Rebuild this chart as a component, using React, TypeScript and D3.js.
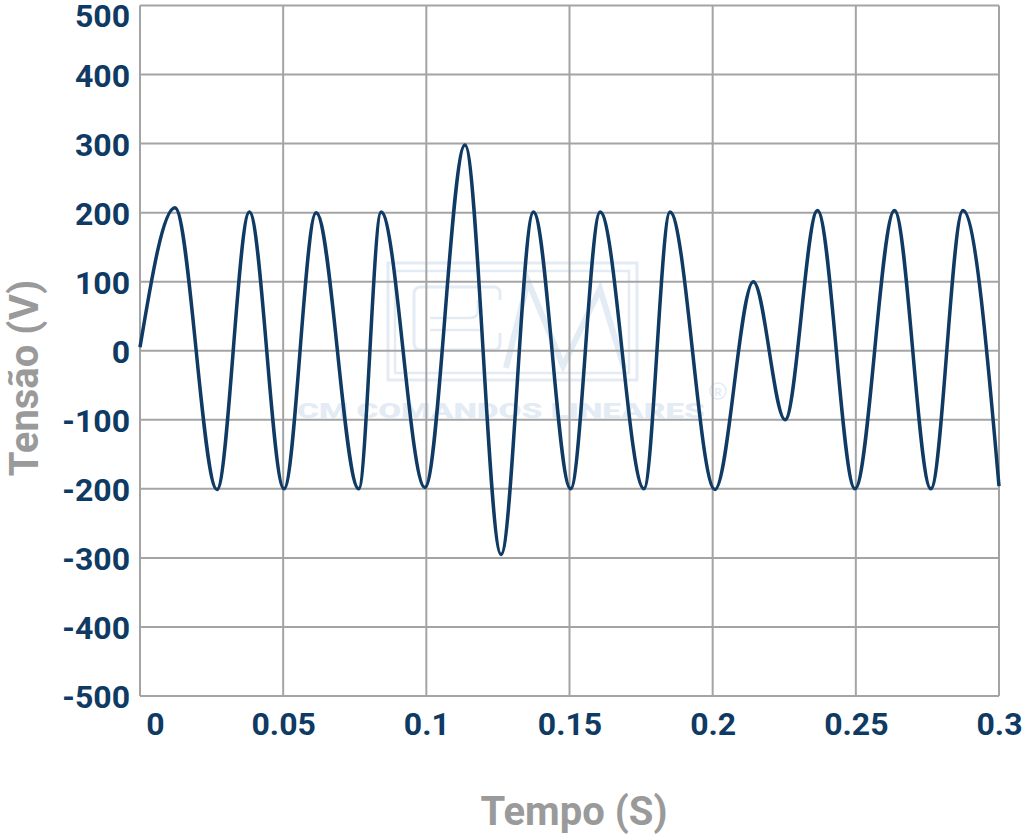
import React, { useRef, useEffect } from "react";
import * as d3 from "d3";

// waveform: time (s) and voltage (V) at start, extrema and end
const times = [
  0, 0.0122, 0.0269, 0.0382, 0.0503, 0.0615, 0.0764, 0.0842, 0.0995, 0.1135,
  0.1261, 0.1374, 0.1504, 0.1607, 0.176, 0.1851, 0.2008, 0.2142, 0.2253,
  0.2366, 0.2497, 0.2635, 0.2762, 0.2874, 0.3,
];
const volts = [
  5, 207, -201, 201, -200, 200, -200, 201, -198, 298, -295, 201, -200, 201,
  -200, 201, -201, 100, -100, 203, -200, 203, -200, 203, -196,
];

const xTicks = [0, 0.05, 0.1, 0.15, 0.2, 0.25, 0.3];
const xTickLabels = ["0", "0.05", "0.1", "0.15", "0.2", "0.25", "0.3"];
const yTicks = [-500, -400, -300, -200, -100, 0, 100, 200, 300, 400, 500];
const yTickLabels = ["-500", "-400", "-300", "-200", "-100", "0", "100", "200", "300", "400", "500"];

const xTitle = "Tempo (S)";
const yTitle = "Tensão (V)";

const App = () => {
  const svgRef = useRef<SVGSVGElement>(null);

  useEffect(() => {
    if (!svgRef.current) return;

    const width = 1024;
    const height = 836;
    const left = 140;
    const right = 999;
    const top = 5.5;
    const bottom = 696;

    const navy = "#0f3a63";
    const grid = "#a4a4a4";
    const wm = "#e3ebf4";

    const svg = d3.select(svgRef.current).attr("width", width).attr("height", height);
    svg.selectAll("*").remove();

    const x = d3.scaleLinear().domain([0, 0.3]).range([left, right]);
    const y = d3.scaleLinear().domain([-500, 500]).range([bottom, top]);

    // faint watermark logo behind everything
    const logo = svg.append("g").attr("fill", "none").attr("stroke", wm);
    logo.append("rect").attr("x", 388).attr("y", 263).attr("width", 249).attr("height", 117).attr("stroke-width", 3);
    logo.append("rect").attr("x", 395).attr("y", 271).attr("width", 234).attr("height", 102).attr("stroke-width", 2.5);
    logo
      .append("path")
      .attr("d", "M500,300 V293 Q500,287 494,287 H421 Q414,287 414,294 V343 Q414,350 421,350 H494 Q500,350 500,343 V333")
      .attr("stroke-width", 3);
    logo
      .append("path")
      .attr("d", "M430,318 H470 Q478,318 478,310 V300 M430,330 H482")
      .attr("stroke-width", 2.5);
    logo
      .append("path")
      .attr("d", "M506,368 L528,281 L563,366 L600,289 L624,368")
      .attr("stroke-width", 6)
      .attr("stroke-linejoin", "miter");
    svg
      .append("text")
      .attr("x", 297)
      .attr("y", 418)
      .attr("textLength", 408)
      .attr("lengthAdjust", "spacingAndGlyphs")
      .style("font-family", "Roboto, sans-serif")
      .style("font-weight", 900)
      .style("font-size", "21px")
      .attr("fill", wm)
      .text("CM COMANDOS LINEARES");
    svg.append("circle").attr("cx", 718).attr("cy", 391).attr("r", 8).attr("fill", "none").attr("stroke", wm).attr("stroke-width", 1.5);
    svg
      .append("text")
      .attr("x", 718)
      .attr("y", 395.5)
      .attr("text-anchor", "middle")
      .style("font-family", "Roboto, sans-serif")
      .style("font-weight", 700)
      .style("font-size", "11px")
      .attr("fill", wm)
      .text("R");

    // grid
    svg
      .append("g")
      .selectAll("line")
      .data(xTicks)
      .join("line")
      .attr("x1", (d) => x(d))
      .attr("x2", (d) => x(d))
      .attr("y1", top)
      .attr("y2", bottom)
      .attr("stroke", grid)
      .attr("stroke-width", 2);
    svg
      .append("g")
      .selectAll("line")
      .data(yTicks)
      .join("line")
      .attr("x1", left)
      .attr("x2", right)
      .attr("y1", (d) => y(d))
      .attr("y2", (d) => y(d))
      .attr("stroke", grid)
      .attr("stroke-width", 2);

    // axes (labels only)
    const yAxis = d3
      .axisLeft(y)
      .tickValues(yTicks)
      .tickSize(0)
      .tickPadding(10)
      .tickFormat((d, i) => yTickLabels[i]);
    svg
      .append("g")
      .attr("transform", `translate(${left},0)`)
      .call(yAxis)
      .call((g) => g.select(".domain").remove())
      .call((g) =>
        g
          .selectAll(".tick text")
          .attr("fill", navy)
          // top label is pushed down so it stays inside the page
          .attr("dy", (d, i) => (i === yTicks.length - 1 ? "21px" : "0.36em"))
          .style("font-family", "Roboto, sans-serif")
          .style("font-weight", 700)
          .style("font-size", "32px")
      );

    const xAxis = d3
      .axisBottom(x)
      .tickValues(xTicks)
      .tickSize(0)
      .tickPadding(16)
      .tickFormat((d, i) => xTickLabels[i]);
    svg
      .append("g")
      .attr("transform", `translate(0,${bottom})`)
      .call(xAxis)
      .call((g) => g.select(".domain").remove())
      .call((g) =>
        g
          .selectAll(".tick text")
          .attr("fill", navy)
          .attr("dx", (d, i) => (i === 0 ? 15 : 0))
          .style("font-family", "Roboto, sans-serif")
          .style("font-weight", 700)
          .style("font-size", "32px")
      );

    // waveform
    const pts = times.map((t, i) => [t, volts[i]] as [number, number]);
    const line = d3
      .line<[number, number]>()
      .x((d) => x(d[0]))
      .y((d) => y(d[1]))
      .curve(d3.curveMonotoneX);
    svg
      .append("path")
      .datum(pts)
      .attr("d", line)
      .attr("fill", "none")
      .attr("stroke", navy)
      .attr("stroke-width", 3.5)
      .attr("stroke-linejoin", "round");

    // titles
    svg
      .append("text")
      .attr("x", 574)
      .attr("y", 825)
      .attr("text-anchor", "middle")
      .attr("fill", "#9a9a9a")
      .style("font-family", "Roboto, sans-serif")
      .style("font-weight", 700)
      .style("font-size", "40px")
      .text(xTitle);
    svg
      .append("text")
      .attr("transform", "translate(38,378) rotate(-90)")
      .attr("text-anchor", "middle")
      .attr("fill", "#9a9a9a")
      .style("font-family", "Roboto, sans-serif")
      .style("font-weight", 700)
      .style("font-size", "40px")
      .text(yTitle);
  }, []);

  return (
    <div style={{ position: "absolute", left: 0, top: 0 }}>
      <svg ref={svgRef}></svg>
    </div>
  );
};

export default App;
